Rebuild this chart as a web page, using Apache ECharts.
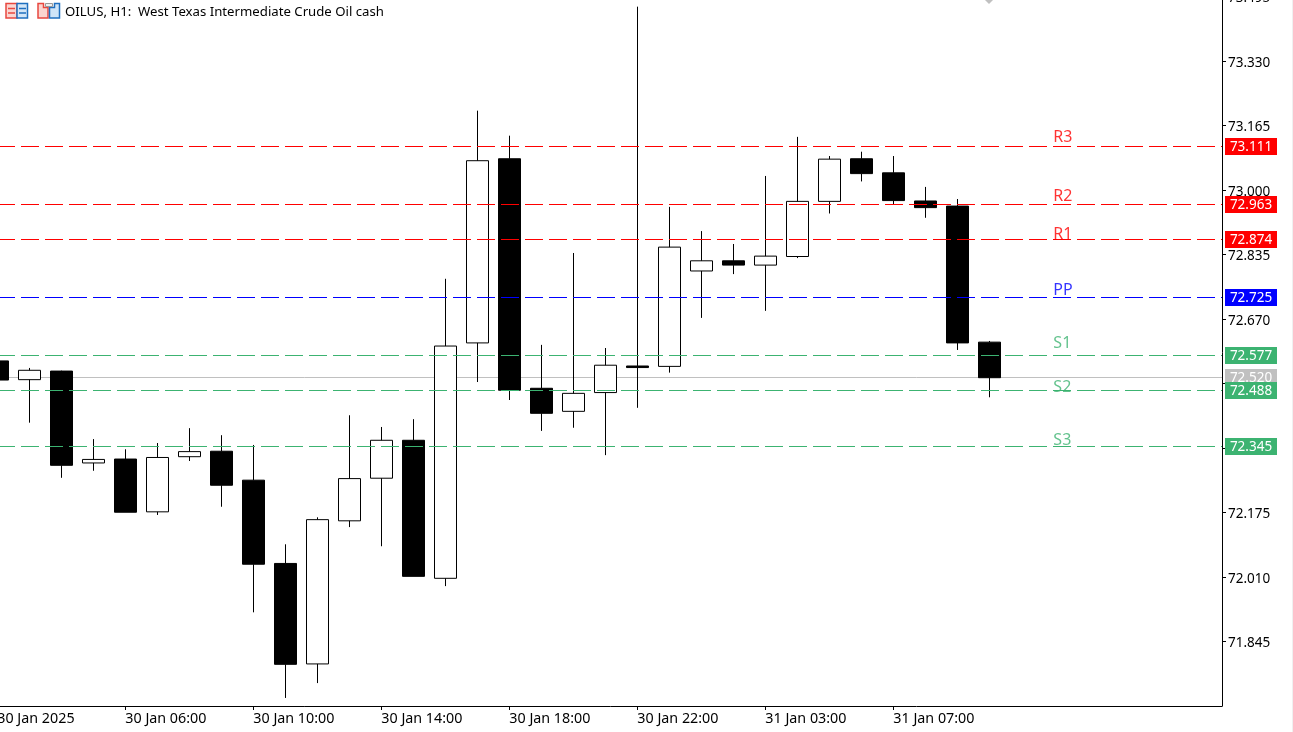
<!DOCTYPE html>
<html>
<head>
<meta charset="utf-8">
<style>html,body{margin:0;padding:0;background:#fff;overflow:hidden}#main{width:1293px;height:732px}</style>
<script src="https://cdn.jsdelivr.net/npm/echarts@6/dist/echarts.min.js"></script>
</head>
<body>
<div id="main"></div>
<script>
// hourly bars
const opens = [72.563,72.515,72.537,72.302,72.312,72.177,72.318,72.332,72.258,72.045,71.788,72.154,72.263,72.360,72.007,72.609,73.080,72.493,72.434,72.482,72.550,72.549,72.793,72.819,72.808,72.830,72.971,73.080,73.044,72.972,72.959,72.611];
const closes = [72.514,72.539,72.296,72.311,72.176,72.316,72.331,72.245,72.043,71.787,72.157,72.262,72.360,72.012,72.601,73.075,72.488,72.429,72.480,72.552,72.546,72.854,72.819,72.808,72.831,72.971,73.079,73.042,72.973,72.955,72.609,72.520];
const lows = [72.501,72.405,72.264,72.282,72.176,72.169,72.307,72.190,71.920,71.701,71.739,72.138,72.089,72.012,71.987,72.509,72.463,72.384,72.392,72.322,72.443,72.533,72.673,72.785,72.691,72.826,72.940,73.022,72.964,72.929,72.591,72.470];
const highs = [72.570,72.545,72.538,72.363,72.337,72.353,72.391,72.373,72.348,72.094,72.163,72.424,72.394,72.414,72.773,73.203,73.139,72.604,72.839,72.596,73.469,72.957,72.895,72.862,73.036,73.136,73.087,73.098,73.087,73.008,72.977,72.614];

const levelNames = ['R3','R2','R1','PP','S1','S2','S3'];
const levelValues = [73.111,72.963,72.874,72.725,72.577,72.488,72.345];
const levelColors = ['#ff0000','#ff0000','#ff0000','#0000ff','#3cb371','#3cb371','#3cb371'];
const tagBar = 33;
const tagPrices = [73.135,72.984,72.887,72.743,72.608,72.495,72.359];
const lastPrice = 72.520;

const priceTicks = [73.495,73.330,73.165,73.000,72.835,72.670,72.505,72.340,72.175,72.010,71.845];
const timeTicks = [0,4,8,12,16,20,24,28];
const timeLabels = ['30 Jan 2025','30 Jan 06:00','30 Jan 10:00','30 Jan 14:00','30 Jan 18:00','30 Jan 22:00','31 Jan 03:00','31 Jan 07:00'];

const candles = opens.map((o, i) => [i, o, closes[i], lows[i], highs[i]]);

// horizontal price line with its badge on the axis, snapped to a pixel row so it stays crisp
function priceLine(color, dash) {
    return function (params, api) {
        const v = api.value(1);
        const c = typeof color === 'function' ? color(params.dataIndex) : color;
        const box = params.coordSys;
        const y = Math.floor(api.coord([0, v])[1]) + 0.5;
        const left = Math.floor(box.x);
        const right = box.x + box.width;
        return {
            type: 'group',
            children: [
                {
                    type: 'line',
                    shape: { x1: left, y1: y, x2: right, y2: y },
                    style: { stroke: c, lineWidth: 1, lineDash: dash }
                },
                {
                    type: 'rect',
                    shape: { x: right + 3, y: y - 8.5, width: 52, height: 17 },
                    style: { fill: c }
                },
                {
                    type: 'text',
                    style: {
                        x: right + 29, y: y + 0.5, text: v.toFixed(3), fill: '#fff',
                        font: '13.5px "Noto Sans"', textAlign: 'center', textVerticalAlign: 'middle'
                    }
                }
            ]
        };
    };
}

let myChart = echarts.init(document.getElementById('main'), null, { renderer: 'canvas' });
myChart.setOption({
    animation: false,
    backgroundColor: '#fff',
    grid: { left: -2.7, top: -10, width: 1224.7, height: 716, outerBoundsMode: 'none' },
    xAxis: {
        type: 'value',
        min: 0,
        max: 38.27,
        splitLine: { show: false },
        axisLine: { lineStyle: { color: '#000', width: 1 } },
        axisTick: { customValues: timeTicks, length: 4, lineStyle: { color: '#000' } },
        axisLabel: {
            customValues: timeTicks,
            formatter: v => timeLabels[timeTicks.indexOf(v)],
            align: 'left',
            color: '#000',
            margin: 6,
            fontFamily: 'Noto Sans',
            fontSize: 14.3
        }
    },
    yAxis: {
        type: 'value',
        position: 'right',
        min: 71.6804,
        max: 73.5116,
        splitLine: { show: false },
        axisLine: { show: true, onZero: false, lineStyle: { color: '#000', width: 1 } },
        axisTick: { show: true, customValues: priceTicks, length: 4, lineStyle: { color: '#000' } },
        axisLabel: {
            customValues: priceTicks,
            formatter: v => '{p|' + v.toFixed(3) + '}',
            color: '#000',
            margin: 6,
            hideOverlap: false,
            rich: {
                p: { color: '#000', padding: [4, 0, 0, 0], fontFamily: 'Noto Sans', fontSize: 13.5 }
            }
        }
    },
    series: [
        {
            type: 'custom',
            z: 1,
            silent: true,
            renderItem: priceLine('#c0c0c0', null),
            encode: { x: 0, y: 1 },
            data: [[0, lastPrice]]
        },
        {
            type: 'candlestick',
            z: 2,
            barWidth: 22,
            encode: { x: 0, y: [1, 2, 3, 4] },
            data: candles,
            itemStyle: {
                color: '#fff', color0: '#000',
                borderColor: '#000', borderColor0: '#000',
                borderWidth: 1
            }
        },
        {
            type: 'custom',
            z: 3,
            silent: true,
            renderItem: priceLine(i => levelColors[i], [18, 6]),
            encode: { x: 0, y: 1 },
            data: levelValues.map(v => [0, v])
        },
        {
            type: 'scatter',
            symbolSize: 0,
            silent: true,
            z: 6,
            data: levelNames.map((n, i) => ({
                value: [tagBar, tagPrices[i]],
                name: n,
                label: {
                    show: true, position: 'right', distance: 0,
                    formatter: n, color: levelColors[i],
                    fontFamily: 'Noto Sans', fontSize: 16
                }
            }))
        }
    ],
    graphic: [
        { type: 'text', left: 65, top: 6, style: { text: 'OILUS, H1:  West Texas Intermediate Crude Oil cash', fill: '#000', font: '13.2px "Noto Sans"' } },
        // toolbar icons
        { type: 'rect', shape: { x: 6, y: 3.5, width: 11, height: 14.5 }, style: { fill: '#fbd5d0', stroke: '#e8473f', lineWidth: 1.5 } },
        { type: 'rect', shape: { x: 17, y: 3.5, width: 10.5, height: 14.5 }, style: { fill: '#d3e6f7', stroke: '#1f6fbf', lineWidth: 1.5 } },
        { type: 'line', shape: { x1: 8, y1: 8.5, x2: 15, y2: 8.5 }, style: { stroke: '#e8473f', lineWidth: 1.5 } },
        { type: 'line', shape: { x1: 8, y1: 13, x2: 15, y2: 13 }, style: { stroke: '#e8473f', lineWidth: 1.5 } },
        { type: 'line', shape: { x1: 19, y1: 8.5, x2: 26, y2: 8.5 }, style: { stroke: '#1f6fbf', lineWidth: 1.5 } },
        { type: 'line', shape: { x1: 19, y1: 13, x2: 26, y2: 13 }, style: { stroke: '#1f6fbf', lineWidth: 1.5 } },
        { type: 'polygon', shape: { points: [[38,3.5],[43.5,3.5],[43.5,7.5],[48,7.5],[48,18],[38,18]] }, style: { fill: '#fbd5d0', stroke: '#e8473f', lineWidth: 1.5 } },
        { type: 'polygon', shape: { points: [[49.5,7.5],[54.5,7.5],[54.5,3.5],[59.5,3.5],[59.5,18],[49.5,18]] }, style: { fill: '#cfe4f7', stroke: '#1f6fbf', lineWidth: 1.5 } },
        { type: 'rect', shape: { x: 45.5, y: 3.5, width: 7, height: 3 }, style: { fill: '#eee', stroke: '#999' } },
        // small marker cut off at the top
        { type: 'polygon', shape: { points: [[985,0],[993,0],[989,4]] }, style: { fill: '#c0c0c0' } },
        // window edge
        { type: 'rect', shape: { x: 1292, y: 0, width: 1, height: 732 }, style: { fill: '#f0f0f0' } }
    ]
});
</script>
</body>
</html>
